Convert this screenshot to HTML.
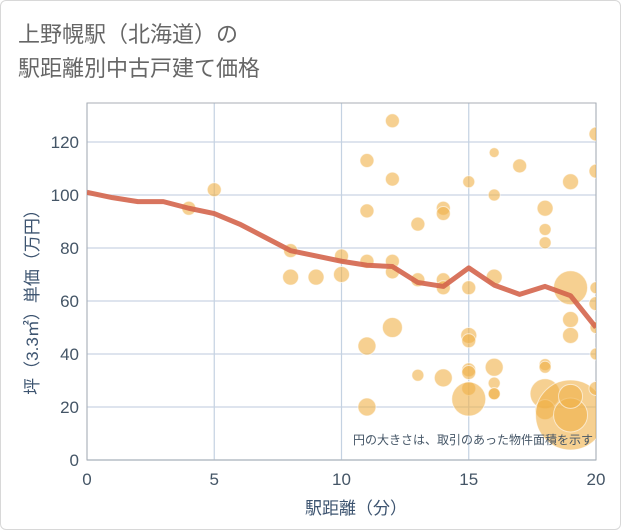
<!DOCTYPE html>
<html><head><meta charset="utf-8"><style>
body{margin:0;background:#fff;font-family:"Liberation Sans","Noto Sans CJK JP",sans-serif}
#wrap{position:relative;width:621px;height:530px;overflow:hidden}
.frame{position:absolute;left:0;top:0;width:619px;height:528px;border:1px solid #d8d8d8;border-radius:6px}
</style></head><body>
<div id="wrap">
<div class="frame"></div>
<svg id="chart" width="621" height="530" style="position:absolute;left:0;top:0"></svg>
</div>
<script>
const NS="http://www.w3.org/2000/svg";
const lineX=[0,1,2,3,4,5,6,7,8,9,10,11,12,13,14,15,16,17,18,19,20];
const lineY=[101,99,97.5,97.5,95,93,89,84,79,77,75,73.5,73,67,65.5,72.5,66,62.5,65.5,62,50];
const bubX=[4,5,8,8,9,10,10,11,11,11,11,11,12,12,12,12,12,13,13,13,14,14,14,14,14,15,15,15,15,15,15,15,15,16,16,16,16,16,16,16,17,18,18,18,18,18,18,18,19,19,19,19,19,19,19,20,20,20,20,20,20,20];
const bubY=[95,102,79,69,69,77,70,113,94,75,43,20,128,106,75,71,50,89,68,32,95,93,68,65,31,105,65,47,45,34,33,27,23,116,100,69,35,29,25,25,111,95,87,82,36,25,19,35,105,65,53,47,17,17,24,123,109,65,59,40,27,50];
const bubR=[7,7,7,8,8,7,8,7,7,7,9,9,7,7,7,7,10,7,7,6,7,7,7,7,9,6,7,8,7,7,7,7,17,5,6,8,9,6,6,6,7,8,6,6,6,15,10,6,8,17,8,8,35,17,12,7,7,6,7,6,7,6];
const xTicks=[0,5,10,15,20];
const yTicks=[0,20,40,60,80,100,120];
const L=87,R=596,T=103,B=460;
const xs=v=>L+(R-L)*v/20;
const ys=v=>B-(B-142)*v/120;
const svg=document.getElementById('chart');
function mk(t,a){const e=document.createElementNS(NS,t);for(const k in a)e.setAttribute(k,a[k]);return e;}
const clip=mk('clipPath',{id:'pc'});clip.appendChild(mk('rect',{x:L,y:T,width:R-L,height:B-T}));svg.appendChild(clip);
yTicks.forEach(v=>{const g=mk('line',{x1:L,x2:R,y1:ys(v),y2:ys(v),stroke:'#d3dce8','stroke-width':1.5});

svg.appendChild(g);
const t=mk('text',{x:L-8,y:ys(v)+6,'text-anchor':'end','font-size':17,fill:'#445566'});t.textContent=v;

svg.appendChild(t);});
xTicks.forEach(v=>{const g=mk('line',{x1:xs(v),x2:xs(v),y1:T,y2:B,stroke:'#c4d2e2','stroke-width':1.2});

svg.appendChild(g);
const t=mk('text',{x:xs(v),y:B+25,'text-anchor':'middle','font-size':17,fill:'#445566'});t.textContent=v;

svg.appendChild(t);});
const border=mk('rect',{x:L,y:T,width:R-L,height:B-T,fill:'none',stroke:'#a8aeb5','stroke-width':1});

svg.appendChild(border);
const gb=mk('g',{'clip-path':'url(#pc)'});svg.appendChild(gb);
bubX.forEach((x,i)=>{const c=mk('circle',{cx:xs(x),cy:ys(bubY[i]),r:bubR[i],fill:'#f0b048','fill-opacity':0.6,stroke:'#fff','stroke-opacity':0.6,'stroke-width':1});

gb.appendChild(c);});
const p=mk('polyline',{points:lineX.map((x,i)=>xs(x)+','+ys(lineY[i])).join(' '),fill:'none',stroke:'#d4654c','stroke-width':5,'stroke-opacity':0.9,'stroke-linejoin':'round'});

gb.appendChild(p);
function txt(s,a,name){const t=mk('text',a);t.textContent=s;

svg.appendChild(t);return t;}
txt('上野幌駅（北海道）の',{x:18,y:42,'font-size':22,fill:'#666'},'chart-title-line1');
txt('駅距離別中古戸建て価格',{x:18,y:76,'font-size':22,fill:'#666'},'chart-title-line2');
txt('駅距離（分）',{x:356,y:514,'text-anchor':'middle','font-size':17,fill:'#3d5470'},'x-axis-title');
txt('坪（3.3㎡）単価（万円）',{x:0,y:0,'text-anchor':'middle','font-size':17,fill:'#3d5470',transform:'translate(38,298) rotate(-90)'},'y-axis-title');
txt('円の大きさは、取引のあった物件面積を示す',{x:593,y:444,'text-anchor':'end','font-size':12,fill:'#445566'},'size-note');
</script>
</body></html>
